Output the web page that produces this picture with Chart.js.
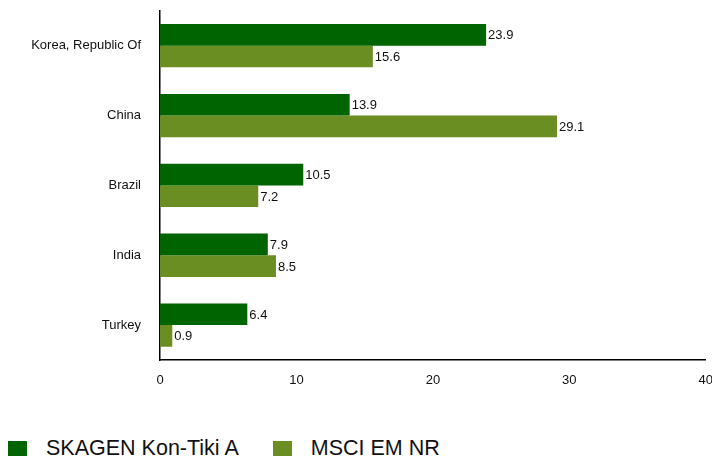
<!DOCTYPE html>
<html>
<head>
<meta charset="utf-8">
<script src="https://cdn.jsdelivr.net/npm/chart.js@4"></script>
<style>
  html, body { margin: 0; padding: 0; background: #fff; overflow: hidden; width: 712px; height: 458px; }
  #wrap { position: absolute; left: 0; top: -16px; width: 726px; height: 417px; }
  #legend { position: absolute; left: 8px; top: 436px; display: flex; align-items: center;
            font-family: Arial, "Liberation Sans", sans-serif; font-size: 21.5px; color: #111; white-space: nowrap; }
  .box { width: 19px; height: 15px; display: inline-block; }
  .lbl { margin-left: 19px; margin-right: 34px; }
</style>
</head>
<body>
<div id="wrap"><canvas id="c"></canvas></div>
<div id="legend"></div>
<script>
const categories = ["Korea, Republic Of", "China", "Brazil", "India", "Turkey"];
const seriesNames = ["SKAGEN Kon-Tiki A", "MSCI EM NR"];
const fundValues = [23.9, 13.9, 10.5, 7.9, 6.4];
const indexValues = [15.6, 29.1, 7.2, 8.5, 0.9];
const xTicks = [0, 10, 20, 30, 40];
const colors = ["#006400", "#6B8E23"];
const FONT = 'Arial, "Liberation Sans", sans-serif';

const valueLabels = {
  id: 'valueLabels',
  afterDatasetsDraw(chart) {
    const ctx = chart.ctx;
    ctx.save();
    ctx.font = '13px ' + FONT;
    ctx.fillStyle = '#111';
    ctx.textAlign = 'left';
    ctx.textBaseline = 'middle';
    chart.data.datasets.forEach((ds, di) => {
      chart.getDatasetMeta(di).data.forEach((bar, i) => {
        ctx.fillText(ds.data[i].toFixed(1), bar.x + 2, bar.y + 1);
      });
    });
    ctx.restore();
  }
};

new Chart(document.getElementById('c'), {
  type: 'bar',
  data: {
    labels: categories,
    datasets: [
      { label: seriesNames[0], data: fundValues, backgroundColor: colors[0], categoryPercentage: 0.62, barPercentage: 1 },
      { label: seriesNames[1], data: indexValues, backgroundColor: colors[1], categoryPercentage: 0.62, barPercentage: 1 }
    ]
  },
  options: {
    indexAxis: 'y',
    responsive: true,
    maintainAspectRatio: false,
    animation: false,
    layout: { padding: { top: 9, left: 0, right: 0, bottom: 0 } },
    plugins: { legend: { display: false }, tooltip: { enabled: false } },
    scales: {
      x: {
        min: 0, max: 40,
        afterBuildTicks(s) { s.ticks = xTicks.map(v => ({ value: v })); },
        afterFit(s) { s.height = 41; },
        grid: { display: false, drawTicks: false },
        border: { display: true, color: '#000', width: 1.5 },
        ticks: { padding: 13, color: '#111', font: { family: FONT, size: 13 } }
      },
      y: {
        afterFit(s) { s.width = 160; },
        grid: { display: false, drawTicks: false },
        border: { display: true, color: '#000', width: 1.5 },
        ticks: { padding: 19, color: '#111', font: { family: FONT, size: 13 } }
      }
    }
  },
  plugins: [valueLabels]
});

const leg = document.getElementById('legend');
seriesNames.forEach((n, i) => {
  const b = document.createElement('span'); b.className = 'box'; b.style.background = colors[i];
  const t = document.createElement('span'); t.className = 'lbl'; t.textContent = n;
  leg.appendChild(b); leg.appendChild(t);
});
</script>
</body>
</html>
